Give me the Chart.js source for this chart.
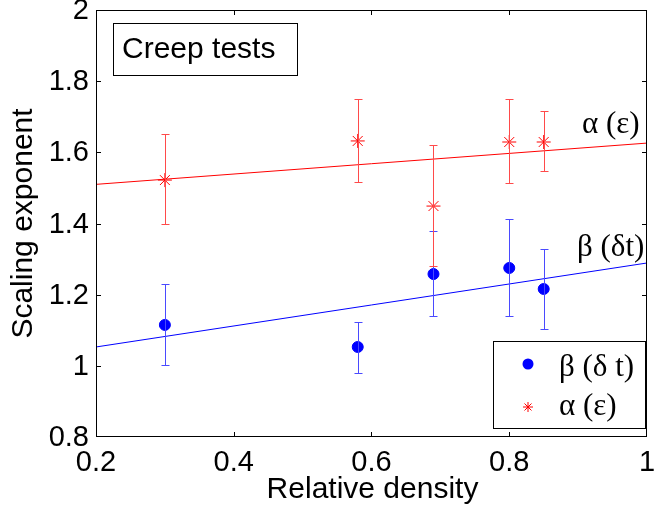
<!DOCTYPE html>
<html>
<head>
<meta charset="utf-8">
<script src="https://cdn.jsdelivr.net/npm/chart.js@4"></script>
<style>
  body { margin: 0; background: #fff; }
  #wrap { width: 655px; height: 510px; }
</style>
</head>
<body>
<div id="wrap"><canvas id="myChart"></canvas></div>
<script>
// values
const density = [0.3, 0.58, 0.69, 0.8, 0.85];
const beta = [1.115, 1.053, 1.258, 1.275, 1.216];
const betaLow = [1.002, 0.980, 1.140, 1.140, 1.103];
const betaHigh = [1.230, 1.123, 1.379, 1.413, 1.328];
const alpha = [1.522, 1.632, 1.449, 1.629, 1.629];
const alphaLow = [1.398, 1.517, 1.280, 1.514, 1.548];
const alphaHigh = [1.651, 1.750, 1.621, 1.750, 1.716];
const fitX = [0.2, 1];
const alphaFit = [1.51, 1.626];
const betaFit = [1.053, 1.289];
const xTicks = [0.2, 0.4, 0.6, 0.8, 1];
const yTicks = [0.8, 1, 1.2, 1.4, 1.6, 1.8, 2];

const sans = '"Liberation Sans", Arial, sans-serif';
const serif = '"Liberation Serif", "Times New Roman", serif';

function toPoints(xs, ys) {
    return xs.map((x, i) => ({ x: x, y: ys[i] }));
}

function drawStar(ctx, x, y, r) {
    const d = r * 0.7;
    ctx.beginPath();
    ctx.moveTo(x - r, y); ctx.lineTo(x + r, y);
    ctx.moveTo(x, y - r); ctx.lineTo(x, y + r);
    ctx.moveTo(x - d, y - d); ctx.lineTo(x + d, y + d);
    ctx.moveTo(x - d, y + d); ctx.lineTo(x + d, y - d);
    ctx.stroke();
}

// error bars, inner ticks, box, labels
const extras = {
    id: 'extras',
    afterDatasetsDraw(chart) {
        const ctx = chart.ctx;
        const xs = chart.scales.x;
        const ys = chart.scales.y;
        const area = chart.chartArea;

        function bars(lows, highs, color) {
            ctx.save();
            ctx.strokeStyle = color;
            ctx.lineWidth = 1;
            density.forEach((d, i) => {
                const px = Math.round(xs.getPixelForValue(d)) + 0.5;
                const y1 = Math.round(ys.getPixelForValue(lows[i])) + 0.5;
                const y2 = Math.round(ys.getPixelForValue(highs[i])) + 0.5;
                ctx.beginPath();
                ctx.moveTo(px, y1);
                ctx.lineTo(px, y2);
                ctx.moveTo(px - 4, y1);
                ctx.lineTo(px + 4, y1);
                ctx.moveTo(px - 4, y2);
                ctx.lineTo(px + 4, y2);
                ctx.stroke();
            });
            ctx.restore();
        }
        bars(betaLow, betaHigh, '#4a4aff');
        bars(alphaLow, alphaHigh, '#ff4a4a');

        ctx.save();
        ctx.strokeStyle = '#000';
        ctx.lineWidth = 1;
        ctx.beginPath();
        xTicks.forEach(v => {
            const px = Math.round(xs.getPixelForValue(v)) + 0.5;
            if (px <= area.left + 1 || px >= area.right - 1) return;
            ctx.moveTo(px, area.bottom);
            ctx.lineTo(px, area.bottom - 5);
            ctx.moveTo(px, area.top);
            ctx.lineTo(px, area.top + 5);
        });
        yTicks.forEach(v => {
            const py = Math.round(ys.getPixelForValue(v)) + 0.5;
            if (py <= area.top + 1 || py >= area.bottom - 1) return;
            ctx.moveTo(area.left, py);
            ctx.lineTo(area.left + 5, py);
            ctx.moveTo(area.right, py);
            ctx.lineTo(area.right - 5, py);
        });
        ctx.stroke();
        ctx.strokeRect(Math.round(area.left) + 0.5, Math.round(area.top) + 0.5,
            Math.round(area.right - area.left) - 1, Math.round(area.bottom - area.top) - 1);

        // tick labels
        ctx.fillStyle = '#000';
        ctx.font = '29px ' + sans;
        ctx.textAlign = 'right';
        ctx.textBaseline = 'middle';
        yTicks.forEach(v => {
            ctx.fillText(String(v), area.left - 7, ys.getPixelForValue(v) + 1);
        });
        ctx.textAlign = 'center';
        ctx.textBaseline = 'top';
        xTicks.forEach(v => {
            ctx.fillText(String(v), xs.getPixelForValue(v), area.bottom + 11);
        });

        // axis titles
        ctx.font = '30px ' + sans;
        ctx.textBaseline = 'middle';
        ctx.fillText('Relative density', (area.left + area.right) / 2 + 1, 490);
        ctx.save();
        ctx.translate(24, (area.top + area.bottom) / 2);
        ctx.rotate(-Math.PI / 2);
        ctx.fillText('Scaling exponent', 0, 0);
        ctx.restore();

        // "Creep tests" box
        ctx.textAlign = 'left';
        ctx.fillStyle = '#fff';
        ctx.fillRect(113.5, 23.5, 184, 52);
        ctx.strokeRect(113.5, 23.5, 184, 52);
        ctx.fillStyle = '#000';
        ctx.font = '30px ' + sans;
        ctx.fillText('Creep tests', 122, 50);

        // line labels
        ctx.font = '31px ' + serif;
        ctx.fillText('\u03b1 (\u03b5)', 582, 125);
        ctx.fillText('\u03b2 (\u03b4t)', 577, 248);

        // legend
        ctx.fillStyle = '#fff';
        ctx.fillRect(493.5, 341.5, 152, 87);
        ctx.strokeRect(493.5, 341.5, 152, 87);
        ctx.fillStyle = '#0000ff';
        ctx.beginPath();
        ctx.arc(528, 364, 5.5, 0, Math.PI * 2);
        ctx.fill();
        ctx.strokeStyle = '#ff0000';
        drawStar(ctx, 528, 407, 5);
        ctx.fillStyle = '#000';
        ctx.font = '31px ' + serif;
        ctx.fillText('\u03b2 (\u03b4 t)', 559, 368);
        ctx.fillText('\u03b1 (\u03b5)', 559, 407);
        ctx.restore();
    }
};

const ctx = document.getElementById('myChart').getContext('2d');
window.myChart = new Chart(ctx, {
    type: 'scatter',
    data: {
        datasets: [
            {
                label: 'alpha fit',
                data: toPoints(fitX, alphaFit),
                showLine: true,
                borderColor: '#ff0000',
                borderWidth: 1,
                pointRadius: 0
            },
            {
                label: 'beta fit',
                data: toPoints(fitX, betaFit),
                showLine: true,
                borderColor: '#0000ff',
                borderWidth: 1,
                pointRadius: 0
            },
            {
                label: '\u03b2 (\u03b4 t)',
                data: toPoints(density, beta),
                backgroundColor: '#0000ff',
                borderColor: '#0000ff',
                pointRadius: 5.5,
                pointHoverRadius: 5.5
            },
            {
                label: '\u03b1 (\u03b5)',
                data: toPoints(density, alpha),
                pointStyle: 'star',
                borderColor: '#ff0000',
                backgroundColor: '#ff0000',
                borderWidth: 1,
                pointRadius: 7,
                pointHoverRadius: 7
            }
        ]
    },
    options: {
        responsive: true,
        maintainAspectRatio: false,
        animation: false,
        layout: { padding: { top: 10, right: 3, left: 0, bottom: 0 } },
        plugins: {
            legend: { display: false },
            tooltip: { enabled: false }
        },
        scales: {
            x: {
                type: 'linear',
                min: 0.2,
                max: 1,
                afterFit: s => { s.height = 73; },
                grid: { display: false, drawTicks: false },
                border: { display: false },
                ticks: { display: false, stepSize: 0.2 }
            },
            y: {
                type: 'linear',
                min: 0.8,
                max: 2,
                afterFit: s => { s.width = 96; },
                grid: { display: false, drawTicks: false },
                border: { display: false },
                ticks: { display: false, stepSize: 0.2 }
            }
        }
    },
    plugins: [extras]
});
</script>
</body>
</html>
